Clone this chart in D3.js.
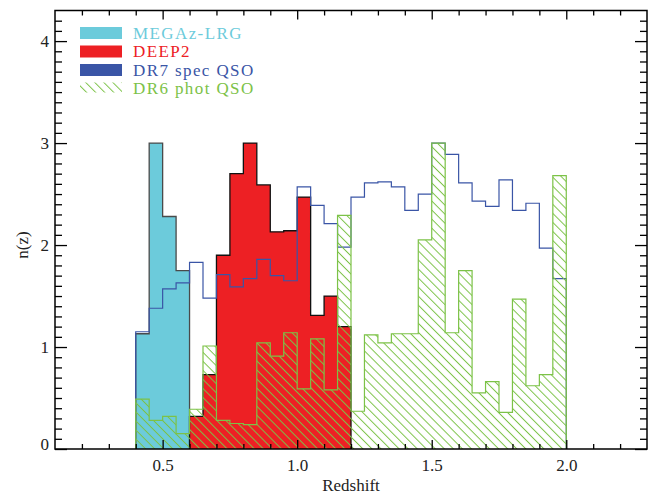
<!DOCTYPE html>
<meta charset='utf-8'>
<style>
body { margin: 0; background: #fff; }
text { font-family: 'Liberation Serif', 'DejaVu Serif', serif; fill: #222; }
.axis path { display: none; }
.axis line { stroke: #000; stroke-width: 1.3; }
.axis text { font-size: 17px; font-family: 'Liberation Serif', serif; fill: #222; }
</style>
<svg width='659' height='495'></svg>
<script src='https://cdnjs.cloudflare.com/ajax/libs/d3/7.8.5/d3.min.js'></script>
<script>

// bin width and histogram values (n(z))
var binWidth = 0.05;

var megazStart = 0.40,
    megazValues = [1.13, 3.00, 2.28, 1.75];

var deep2Start = 0.60,
    deep2Values = [0.32, 0.73, 1.90, 2.70, 3.00, 2.59, 2.13, 2.14, 2.47, 1.31, 1.50, 1.20];

var dr7Start = 0.40,
    dr7Values = [1.15, 1.38, 1.57, 1.63, 1.83, 1.48, 1.71, 1.59, 1.67, 1.86, 1.70, 1.65,
                 2.57, 2.39, 2.21, 1.98, 2.47, 2.61, 2.62, 2.57, 2.34, 2.50,
                 3.00, 2.89, 2.61, 2.43, 2.38, 2.64, 2.34, 2.41, 1.97, 1.67];

var dr6Start = 0.40,
    dr6Values = [0.49, 0.28, 0.32, 0.15, 0.39, 1.01, 0.28, 0.25, 0.24, 1.04, 0.91, 1.14,
                 0.59, 1.08, 0.58, 2.29, 0.37, 1.12, 1.04, 1.13, 1.13, 2.05,
                 3.00, 1.14, 1.75, 0.55, 0.66, 0.36, 1.47, 0.62, 0.73, 2.68];

var xMajorTicks = [0.5, 1.0, 1.5, 2.0],
    yMajorTicks = [0, 1, 2, 3, 4];

var legendLabels = ['MEGAz-LRG', 'DEEP2', 'DR7 spec QSO', 'DR6 phot QSO'];

var cyan = '#6ccbdb', red = '#ed2024', blue = '#3a55a6', green = '#7cc247';

var svg = d3.select('svg'),
    plotL = 55, plotR = 647, plotT = 10.5, plotB = 449;

var x = d3.scaleLinear().domain([0.1, 2.3]).range([plotL, plotR]),
    y = d3.scaleLinear().domain([0, 4.3]).range([plotB, plotT]);

// hatch for the photometric QSO sample
var defs = svg.append('defs');
defs.append('pattern')
    .attr('id', 'hatch')
    .attr('patternUnits', 'userSpaceOnUse')
    .attr('width', 6.4).attr('height', 6.4)
    .attr('patternTransform', 'rotate(45)')
    .append('line')
    .attr('x1', 0).attr('y1', 3.2).attr('x2', 6.4).attr('y2', 3.2)
    .attr('stroke', green).attr('stroke-width', 1);

// step outline, closed down to zero at both ends
function stepPoints(start, values) {
    var pts = [[start, 0]];
    values.forEach(function(v, i) { pts.push([start + i * binWidth, v]); });
    var end = start + values.length * binWidth;
    pts.push([end, values[values.length - 1]]);
    pts.push([end, 0]);
    return pts;
}

var step = d3.line()
    .x(function(d) { return x(d[0]); })
    .y(function(d) { return y(d[1]); })
    .curve(d3.curveStepAfter);

var plot = svg.append('g');

plot.append('path')
    .attr('d', step(stepPoints(megazStart, megazValues)))
    .attr('fill', cyan).attr('stroke', '#4a4a4a').attr('stroke-width', 1.3);

plot.append('path')
    .attr('d', step(stepPoints(deep2Start, deep2Values)))
    .attr('fill', red).attr('stroke', '#111').attr('stroke-width', 1.3);

plot.append('path')
    .attr('d', step(stepPoints(dr7Start, dr7Values)))
    .attr('fill', 'none').attr('stroke', blue).attr('stroke-width', 1.2);

plot.append('path')
    .attr('d', step(stepPoints(dr6Start, dr6Values)))
    .attr('fill', 'url(#hatch)').attr('stroke', green).attr('stroke-width', 1.2);

// axes: major + minor ticks on all four sides, pointing inward
function onHalf(v) { return Math.abs(v * 2 - Math.round(v * 2)) < 1e-6; }
var xMinor = d3.range(2, 23).map(function(i) { return i / 10; }).filter(function(v) { return !onHalf(v); });
var yMinor = d3.range(1, 43).map(function(i) { return i / 10; }).filter(function(v) { return Math.abs(v - Math.round(v)) > 1e-6; });

svg.append('g').attr('class', 'axis').attr('transform', 'translate(0,' + plotB + ')')
    .call(d3.axisBottom(x).tickValues(xMajorTicks).tickFormat(d3.format('.1f'))
        .tickSizeInner(-9).tickSizeOuter(0).tickPadding(10));
svg.append('g').attr('class', 'axis').attr('transform', 'translate(0,' + plotB + ')')
    .call(d3.axisBottom(x).tickValues(xMinor).tickFormat('').tickSizeInner(-5).tickSizeOuter(0));
svg.append('g').attr('class', 'axis').attr('transform', 'translate(0,' + plotT + ')')
    .call(d3.axisTop(x).tickValues(xMajorTicks).tickFormat('').tickSizeInner(-9).tickSizeOuter(0));
svg.append('g').attr('class', 'axis').attr('transform', 'translate(0,' + plotT + ')')
    .call(d3.axisTop(x).tickValues(xMinor).tickFormat('').tickSizeInner(-5).tickSizeOuter(0));

var yAxisLeft = svg.append('g').attr('class', 'axis').attr('transform', 'translate(' + plotL + ',0)')
    .call(d3.axisLeft(y).tickValues(yMajorTicks).tickFormat(d3.format('d'))
        .tickSizeInner(-12).tickSizeOuter(0).tickPadding(6));
// the zero label sits on the axis line, like the original
yAxisLeft.selectAll('.tick text').filter(function(d) { return d === 0; }).attr('dy', '0em');
svg.append('g').attr('class', 'axis').attr('transform', 'translate(' + plotL + ',0)')
    .call(d3.axisLeft(y).tickValues(yMinor).tickFormat('').tickSizeInner(-7).tickSizeOuter(0));
svg.append('g').attr('class', 'axis').attr('transform', 'translate(' + plotR + ',0)')
    .call(d3.axisRight(y).tickValues(yMajorTicks).tickFormat('').tickSizeInner(-12).tickSizeOuter(0));
svg.append('g').attr('class', 'axis').attr('transform', 'translate(' + plotR + ',0)')
    .call(d3.axisRight(y).tickValues(yMinor).tickFormat('').tickSizeInner(-7).tickSizeOuter(0));

svg.append('rect')
    .attr('x', plotL).attr('y', plotT).attr('width', plotR - plotL).attr('height', plotB - plotT)
    .attr('fill', 'none').attr('stroke', '#000').attr('stroke-width', 1.5);

// axis titles
svg.append('text').attr('x', (plotL + plotR) / 2).attr('y', 491)
    .attr('text-anchor', 'middle').style('font-size', '17px').text('Redshift');
svg.append('text').attr('transform', 'translate(28,' + y(2) + ') rotate(-90)')
    .attr('text-anchor', 'middle').style('font-size', '17px').text('n(z)');

// legend
var legend = svg.append('g').attr('transform', 'translate(80,27)');
var swatchFill = [cyan, red, blue, 'url(#hatch)'];
var textFill = [cyan, red, blue, green];
legendLabels.forEach(function(label, i) {
    legend.append('rect')
        .attr('x', 0).attr('y', i * 18.5).attr('width', 42).attr('height', i === 3 ? 10 : 12)
        .attr('fill', swatchFill[i]);
    legend.append('text')
        .attr('x', 53).attr('y', i * 18.5 + 11.5)
        .style('font-size', '17px').style('letter-spacing', '1.4px')
        .style('fill', textFill[i])
        .text(label);
});
</script>
